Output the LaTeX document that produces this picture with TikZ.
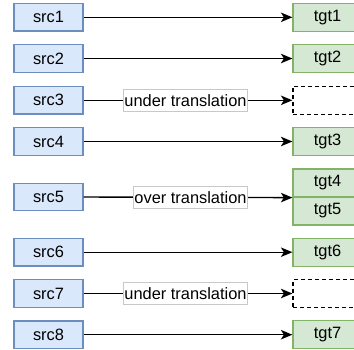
\documentclass[tikz,border=0pt]{standalone}
\usepackage{fontspec}
\setmainfont{Liberation Sans}
\usetikzlibrary{arrows.meta}
\definecolor{bfill}{HTML}{DAE8FC}
\definecolor{bdraw}{HTML}{6C8EBF}
\definecolor{gfill}{HTML}{D5E8D4}
\definecolor{gdraw}{HTML}{82B366}
\definecolor{lbldraw}{HTML}{C8C8C8}
\begin{document}
\begin{tikzpicture}[x=1pt,y=-1pt,
  font=\fontsize{16.4}{19}\selectfont,
  srcbox/.style={draw=bdraw, fill=bfill, line width=1.2pt, minimum width=69pt, minimum height=27.5pt, inner sep=0pt},
  tgtbox/.style={draw=gdraw, fill=gfill, line width=1.2pt, minimum width=69pt, minimum height=28pt, inner sep=0pt},
  emptybox/.style={draw=black, dash pattern=on 4pt off 3pt, line width=1.2pt, minimum width=69pt, minimum height=28pt, inner sep=0pt},
  conn/.style={-{Stealth[length=11.5pt,width=9.5pt,inset=3pt]}, line width=1.4pt},
  lbl/.style={fill=white, draw=lbldraw, line width=0.6pt, inner xsep=1pt, inner ysep=0pt, minimum height=22pt}]
\useasboundingbox (0,0) rectangle (354,349);
\clip (0,0) rectangle (354,349);
% sources
\node[srcbox] (src1) at (48.5,17.3) {src1};
\node[srcbox] (src2) at (48.5,58.5) {src2};
\node[srcbox] (src3) at (48.5,100.3) {src3};
\node[srcbox] (src4) at (48.5,141.5) {src4};
\node[srcbox] (src5) at (48.5,197) {src5};
\node[srcbox] (src6) at (48.5,252.2) {src6};
\node[srcbox] (src7) at (48.5,293.5) {src7};
\node[srcbox] (src8) at (48.5,334.7) {src8};
% targets
\node[tgtbox] (tgt1) at (327.5,17.3) {tgt1};
\node[tgtbox] (tgt2) at (327.5,58.5) {tgt2};
\node[emptybox] (gap1) at (327.5,100.3) {};
\node[tgtbox] (tgt3) at (327.5,141.5) {tgt3};
\node[tgtbox] (tgt4) at (327.5,183) {tgt4};
\node[tgtbox] (tgt5) at (327.5,211) {tgt5};
\node[tgtbox] (tgt6) at (327.5,252.2) {tgt6};
\node[emptybox] (gap2) at (327.5,293.5) {};
\node[tgtbox] (tgt7) at (327.5,334.7) {tgt7};
% connectors
\draw[conn] (src1) -- (tgt1);
\draw[conn] (src2) -- (tgt2);
\draw[conn] (src3) -- node[lbl, pos=0.488] {under translation} (gap1);
\draw[conn] (src4) -- (tgt3);
\draw[conn] (src5.east) -- node[lbl, pos=0.512] {over translation} (tgt4.south west);
\draw[conn] (src6) -- (tgt6);
\draw[conn] (src7) -- node[lbl, pos=0.488] {under translation} (gap2);
\draw[conn] (src8) -- (tgt7);
\end{tikzpicture}
\end{document}
